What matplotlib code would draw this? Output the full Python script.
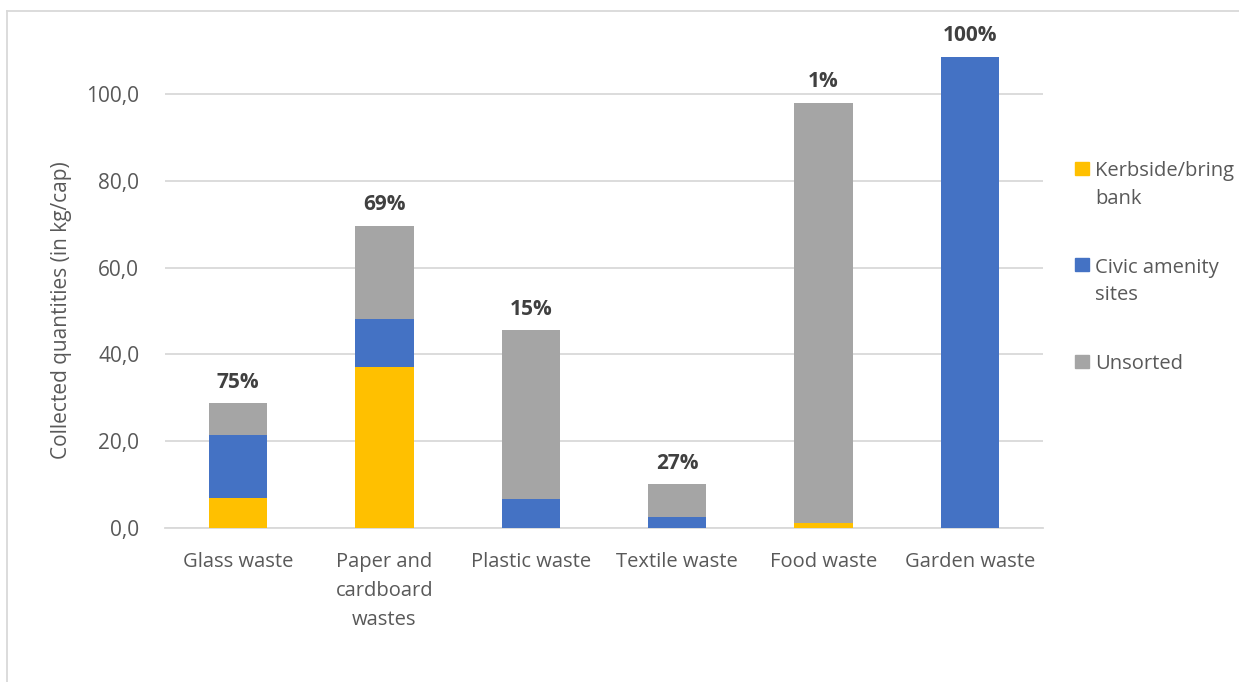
import matplotlib
matplotlib.use("Agg")
import matplotlib.pyplot as plt
from matplotlib.patches import Rectangle
from matplotlib.lines import Line2D
import numpy as np

categories = ["Glass waste", "Paper and\ncardboard\nwastes", "Plastic waste",
              "Textile waste", "Food waste", "Garden waste"]
kerbside = [6.9, 37.2, 0.0, 0.0, 1.1, 0.0]
civic = [14.5, 10.9, 6.6, 2.6, 0.0, 108.6]
unsorted = [7.3, 21.6, 39.0, 7.5, 96.9, 0.0]
pct_labels = ["75%", "69%", "15%", "27%", "1%", "100%"]
series_names = ["Kerbside/bring\nbank", "Civic amenity\nsites", "Unsorted"]
colors = ["#FFC000", "#4472C4", "#A5A5A5"]
yticks = [0, 20, 40, 60, 80, 100]

W, H = 1239, 682
plt.rcParams['font.family'] = ['Open Sans', 'DejaVu Sans']
fig = plt.figure(figsize=(W / 100, H / 100), dpi=100)

def fx(px):
    return px / W

def fy(py):
    return 1 - py / H

ax = fig.add_axes([fx(165), fy(528), fx(1043) - fx(165), fy(50.6) - fy(528)])
x = np.arange(len(categories))
k = np.array(kerbside)
c = np.array(civic)
u = np.array(unsorted)
ax.bar(x, k, width=0.4, color=colors[0], zorder=3)
ax.bar(x, c, width=0.4, bottom=k, color=colors[1], zorder=3)
ax.bar(x, u, width=0.4, bottom=k + c, color=colors[2], zorder=3)
totals = k + c + u
for xi, t, lab in zip(x, totals, pct_labels):
    ax.annotate(lab, (xi, t), xytext=(0, 7.5), textcoords="offset points",
                ha="center", va="bottom", fontsize=15, fontweight="bold",
                color="#404040", annotation_clip=False)

ax.set_xlim(-0.5, len(categories) - 0.5)
ax.set_ylim(0, 110)
ax.set_yticks(yticks)
ax.set_yticklabels([f"{v:.1f}".replace(".", ",") for v in yticks])
ax.set_xticks(x)
ax.set_xticklabels(categories, linespacing=1.6)
ax.tick_params(axis="both", length=0, labelsize=14.5, colors="#595959")
ax.tick_params(axis="y", pad=18.5, labelsize=15)
ax.tick_params(axis="x", pad=17)
ax.grid(axis="y", color="#D9D9D9", linewidth=1.3, zorder=0)
for s in ["top", "right", "left"]:
    ax.spines[s].set_visible(False)
ax.spines["bottom"].set_color("#D9D9D9")
ax.spines["bottom"].set_linewidth(1.3)
ax.set_ylabel("Collected quantities (in kg/cap)", fontsize=15, color="#595959")
ax_w = fx(1043) - fx(165)
ax_h = fy(50.6) - fy(528)
ax.yaxis.set_label_coords(fx(62 - 165) / ax_w, (fy(310) - fy(528)) / ax_h)
ax.yaxis.label.set_verticalalignment("center")

# legend (manual)
leg_base = [176, 272, 369]
line_step = 28
for yb, name, col in zip(leg_base, series_names, colors):
    fig.patches.append(Rectangle((fx(1075), fy(yb - 1)), fx(14), fy(0) - fy(13),
                                 transform=fig.transFigure, color=col))
    n_lines = name.count("\n")
    fig.text(fx(1095), fy(yb + line_step * n_lines), name, ha="left",
             va="baseline", fontsize=14.5, color="#595959", linespacing=1.5,
             transform=fig.transFigure)

# chart border
fig.add_artist(Line2D([fx(7), fx(7)], [fy(11), 0], color="#D9D9D9", lw=1.3,
                      transform=fig.transFigure))
fig.add_artist(Line2D([fx(7), 1], [fy(11), fy(11)], color="#D9D9D9", lw=1.3,
                      transform=fig.transFigure))

fig.savefig("out.png", dpi=100)
